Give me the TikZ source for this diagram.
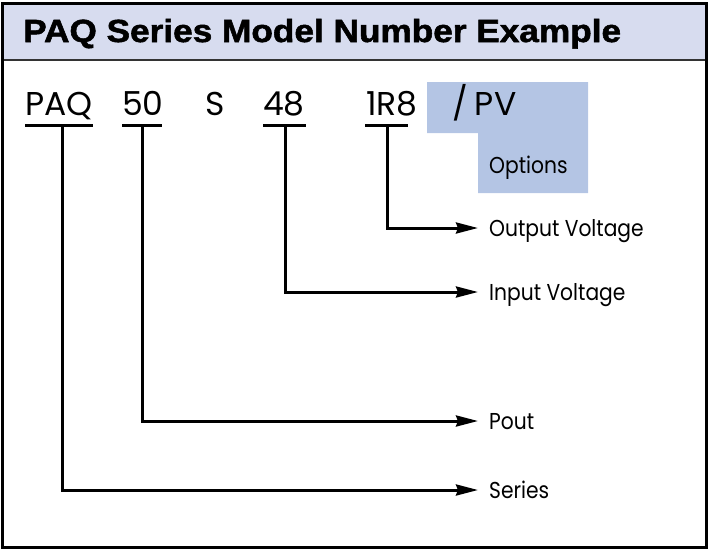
\documentclass[tikz,border=0pt]{standalone}
\usepackage{fontspec}
\usepackage{graphicx}
\setmainfont{Poppins}
\newfontfamily\lblfont[FakeStretch=0.88]{Poppins}
\newfontfamily\titlefont[FakeBold=1.6]{Liberation Sans Bold}
\usetikzlibrary{arrows.meta}
\definecolor{hdrfill}{HTML}{D7DCEF}
\definecolor{optfill}{HTML}{B4C5E4}
\tikzset{
  codetxt/.style={anchor=base west, inner sep=0pt, font=\fontsize{33}{33}\selectfont},
  lbl/.style={anchor=west, inner xsep=11pt, inner ysep=0pt, text height=16pt, text depth=0pt, font=\lblfont\fontsize{23}{23}\selectfont},
  uline/.style={line width=3pt},
  conn/.style={line width=3pt, -{Stealth[length=22pt,width=11pt,inset=2pt]}},
}
\begin{document}
\begin{tikzpicture}[x=1pt,y=-1pt]
\useasboundingbox (0,0) rectangle (709,550);
% header
\fill[hdrfill] (3,4) rectangle (706,59);
\draw[line width=2pt, black!80] (3,59.5) -- (706,59.5);
\node[anchor=base west, inner sep=0pt, font=\titlefont\fontsize{32}{32}\selectfont] (title) at (23,42) {\scalebox{1.1}[1]{PAQ Series Model Number Example}};
% options box
\fill[optfill] (427,82) -- (588,82) -- (588,193) -- (478,193) -- (478,133) -- (427,133) -- cycle;
% code parts
\node[codetxt] (cPAQ) at (25,115) {PAQ};
\node[codetxt] (c50) at (122,115) {50};
\node[codetxt] (cS) at (205,115) {S};
\node[codetxt] (c48) at (263,115) {48};
\node[codetxt] (c1R8) at (366,115) {1R8};
\node[codetxt] (cPV) at (452,115) {/\kern7pt PV};
\node[anchor=base west, inner sep=0pt, font=\lblfont\fontsize{23}{23}\selectfont] (opts) at (489,173) {Options};
% underlines
\draw[uline] (25,125) -- (93,125);
\draw[uline] (122,125) -- (162,125);
\draw[uline] (263,125) -- (306,125);
\draw[uline] (365,125) -- (408,125);
\coordinate (sPAQ) at (62,125);
\coordinate (s50) at (142,125);
\coordinate (s48) at (285,125);
\coordinate (s1R8) at (387,125);
% labels
\node[lbl] (lOut) at (478,228) {Output Voltage};
\node[lbl] (lIn) at (478,292) {Input Voltage};
\node[lbl] (lPout) at (478,421) {Pout};
\node[lbl] (lSeries) at (478,490) {Series};
% connectors
\draw[conn] (s1R8) |- (lOut);
\draw[conn] (s48) |- (lIn);
\draw[conn] (s50) |- (lPout);
\draw[conn] (sPAQ) |- (lSeries);
% frame
\draw[line width=3pt] (2.5,3.5) rectangle (706.5,547);
\end{tikzpicture}
\end{document}
